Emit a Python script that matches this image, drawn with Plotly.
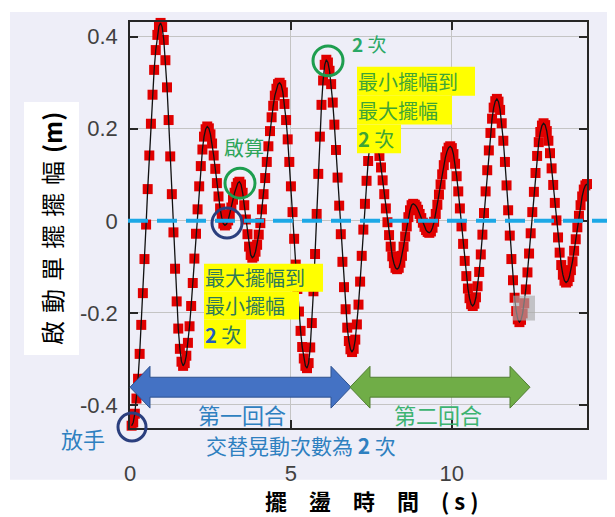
import plotly.graph_objects as go

# ---------------- data ----------------
sample_interval_s = 0.05
amplitude_m = [
    -0.445, -0.438, -0.419, -0.386, -0.343, -0.289, -0.226, -0.157, -0.083, -0.008,
    0.069, 0.142, 0.211, 0.274, 0.328, 0.371, 0.404, 0.423, 0.430,
    0.421, 0.393, 0.349, 0.290, 0.219, 0.140, 0.058, -0.025, -0.104, -0.175,
    -0.234, -0.278, -0.306, -0.315,
    -0.309, -0.293, -0.265, -0.229, -0.185, -0.135, -0.082, -0.028, 0.025, 0.075,
    0.119, 0.155, 0.183, 0.199, 0.205,
    0.201, 0.188, 0.168, 0.142, 0.113, 0.082, 0.053, 0.027, 0.007, -0.006, -0.010,
    -0.007, 0.001, 0.014, 0.029, 0.046, 0.061, 0.074, 0.082, 0.085,
    0.079, 0.061, 0.034, 0.003, -0.029, -0.056, -0.074, -0.080,
    -0.077, -0.067, -0.052, -0.030, -0.005, 0.025, 0.058, 0.093, 0.128, 0.162,
    0.195, 0.225, 0.250, 0.272, 0.287, 0.297, 0.300,
    0.295, 0.279, 0.254, 0.219, 0.177, 0.128, 0.075, 0.019, -0.039, -0.095,
    -0.148, -0.197, -0.239, -0.274, -0.299, -0.315, -0.320,
    -0.309, -0.275, -0.222, -0.153, -0.072, 0.015, 0.102, 0.183, 0.252, 0.305,
    0.339, 0.350,
    0.344, 0.326, 0.297, 0.257, 0.209, 0.154, 0.094, 0.033, -0.029, -0.089,
    -0.144, -0.192, -0.232, -0.261, -0.279, -0.285,
    -0.278, -0.258, -0.225, -0.182, -0.132, -0.076, -0.019, 0.037, 0.087, 0.130,
    0.163, 0.183, 0.190,
    0.187, 0.177, 0.162, 0.141, 0.116, 0.088, 0.058, 0.027, -0.003, -0.031,
    -0.056, -0.077, -0.092, -0.102, -0.105,
    -0.102, -0.091, -0.076, -0.056, -0.034, -0.012, 0.008, 0.023, 0.034, 0.037,
    0.035, 0.031, 0.024, 0.015, 0.006, -0.004, -0.013, -0.020, -0.024, -0.026,
    -0.023, -0.015, -0.002, 0.015, 0.035, 0.057, 0.079, 0.101, 0.121, 0.138,
    0.151, 0.159, 0.162,
    0.158, 0.145, 0.124, 0.097, 0.064, 0.027, -0.012, -0.050, -0.087, -0.120,
    -0.147, -0.168, -0.181, -0.185,
    -0.180, -0.166, -0.142, -0.111, -0.073, -0.030, 0.017, 0.064, 0.110, 0.153,
    0.191, 0.222, 0.246, 0.260, 0.265,
    0.259, 0.241, 0.212, 0.174, 0.128, 0.077, 0.023, -0.032, -0.083, -0.129,
    -0.167, -0.196, -0.214, -0.220,
    -0.215, -0.201, -0.179, -0.149, -0.112, -0.071, -0.027, 0.019, 0.063, 0.104,
    0.141, 0.171, 0.193, 0.207, 0.212,
    0.208, 0.195, 0.174, 0.147, 0.114, 0.078, 0.039, 0.001, -0.036, -0.069,
    -0.096, -0.117, -0.130, -0.134,
    -0.131, -0.122, -0.107, -0.088, -0.065, -0.040, -0.014, 0.011, 0.034, 0.053,
    0.068, 0.077, 0.080,
]
time_s = [round(sample_interval_s * (i + 1), 2) for i in range(len(amplitude_m))]

x_tick_vals = [0, 5, 10]
x_tick_text = ["0", "5", "10"]
y_tick_vals = [-0.4, -0.2, 0, 0.2, 0.4]
y_tick_text = ["-0.4", "-0.2", "0", "0.2", "0.4"]

y_title = "啟\u2004動\u2004單\u2004擺\u2004擺\u2004幅\u2004<b>(m)</b>"
x_title = "<b>擺\u3000盪\u3000時\u3000間\u3000( s )</b>"

# ---------------- layout helpers (screen pixel -> paper) ----------------
OFF = 8                      # default page margin around the figure div
W, H = 615 - OFF, 517 - OFF
PX0, PX1, PY0, PY1 = 130, 587, 20, 428   # plot area in screen pixels
L, T = PX0 - OFF, PY0 - OFF
R, B = W - (PX1 - OFF), H - (PY1 - OFF)
PW, PH = PX1 - PX0, PY1 - PY0


def xp(px):
    return (px - PX0) / PW


def yp(py):
    return (PY1 - py) / PH


CJK = "Noto Sans CJK TC, Noto Sans, sans-serif"

fig = go.Figure()
fig.add_trace(go.Scatter(
    x=time_s, y=amplitude_m, mode="markers",
    marker=dict(symbol="square", size=10, color="#e00000"),
    cliponaxis=False, showlegend=False, hoverinfo="skip"))
fig.add_trace(go.Scatter(
    x=time_s, y=amplitude_m, mode="lines",
    line=dict(color="#111111", width=1.3),
    showlegend=False))

shapes = []
# lavender background panel
shapes.append(dict(type="rect", xref="paper", yref="paper", layer="below",
                   x0=xp(10), x1=xp(612), y0=yp(480), y1=yp(10),
                   fillcolor="#eeeef8", line=dict(width=0)))
# dashed zero line
shapes.append(dict(type="line", xref="paper", yref="y", x0=xp(128), x1=xp(616),
                   y0=0, y1=0, layer="above",
                   line=dict(color="#1ca8e6", width=4, dash="20px,9px")))


def circle(cx, cy, r, color):
    return dict(type="circle", xref="paper", yref="paper", layer="above",
                x0=xp(cx - r), x1=xp(cx + r), y0=yp(cy + r), y1=yp(cy - r),
                line=dict(color=color, width=3))


shapes.append(circle(240, 182, 15, "#1e9e4f"))
shapes.append(circle(227, 222, 15, "#2b3f7e"))
shapes.append(circle(328, 59, 15, "#1e9e4f"))
shapes.append(circle(132, 427, 14, "#2b3f7e"))


def dbl_arrow(x0, x1, yc, fill, edge):
    hh, sh, hl = 21, 10, 20
    pts = [(x0, yc), (x0 + hl, yc - hh), (x0 + hl, yc - sh), (x1 - hl, yc - sh),
           (x1 - hl, yc - hh), (x1, yc), (x1 - hl, yc + hh), (x1 - hl, yc + sh),
           (x0 + hl, yc + sh), (x0 + hl, yc + hh)]
    path = "M " + " L ".join(f"{xp(a):.5f},{yp(b):.5f}" for a, b in pts) + " Z"
    return dict(type="path", xref="paper", yref="paper", path=path, layer="above",
                fillcolor=fill, line=dict(color=edge, width=1))


shapes.append(dbl_arrow(130, 351, 387, "#4472c4", "#2f528f"))
shapes.append(dbl_arrow(350, 530, 387, "#70ad47", "#507e32"))
# grey highlight square
shapes.append(dict(type="rect", xref="paper", yref="paper", layer="above",
                   x0=xp(513), x1=xp(535), y0=yp(320), y1=yp(295),
                   fillcolor="rgba(170,170,170,0.65)", line=dict(width=0)))


def highlight(x0, x1, y0, y1):
    shapes.append(dict(type="rect", xref="paper", yref="paper", layer="above",
                       x0=xp(x0), x1=xp(x1), y0=yp(y1), y1=yp(y0),
                       fillcolor="#ffff00", line=dict(width=0)))


# per-line yellow highlights of the two text boxes
highlight(357, 475, 65, 94)
highlight(357, 452, 94, 123)
highlight(357, 401, 123, 152)
highlight(204, 323, 263, 291)
highlight(204, 299, 291, 319)
highlight(204, 246, 319, 348)

ann = []


def text(px, py, s, color, size, anchor="center", bg=None, angle=0, pad=1):
    d = dict(xref="paper", yref="paper", x=xp(px), y=yp(py), text=s,
             showarrow=False, xanchor=anchor, yanchor="middle", align="left",
             font=dict(family=CJK, size=size, color=color), textangle=angle,
             borderpad=pad, borderwidth=0)
    if bg:
        d["bgcolor"] = bg
    ann.append(d)


text(244, 146, "啟算", "#2ea55a", 20)
text(369, 42, "<b>2</b> 次", "#2aa866", 19)
up_c = "#3fa535"
text(358, 79.5, "最小擺幅到", up_c, 20, "left", pad=0)
text(358, 108.5, "最大擺幅", up_c, 20, "left", pad=0)
text(358, 137.5, "<b>2</b> 次", up_c, 20, "left", pad=0)
lo_c = "#2e7a5a"
text(205, 277, "最大擺幅到", lo_c, 20, "left", pad=0)
text(205, 305, "最小擺幅", lo_c, 20, "left", pad=0)
text(205, 334, "<b><span style='color:#1f5cc4'>2</span></b> 次", lo_c, 20, "left", pad=0)
text(242, 414, "第一回合", "#2e80c0", 22)
text(438, 414, "第二回合", "#3cb371", 22)
text(301, 445, "交替晃動次數為 <b>2</b> 次", "#2e80c0", 21)
text(83, 438, "放手", "#2e80c0", 22)
# axis titles
text(52, 228, y_title, "#000000", 24, angle=-90, bg="#ffffff", pad=10)
text(372, 500, x_title, "#000000", 22)

axis_common = dict(showline=True, linecolor="#262626", linewidth=1.5, mirror="ticks",
                   ticks="inside", ticklen=8, tickwidth=1.5, tickcolor="#262626",
                   showgrid=True, gridcolor="#c4c4c4", gridwidth=1, zeroline=False,
                   tickfont=dict(family="Liberation Sans, Arial, sans-serif",
                                 size=22, color="#404040"))

fig.update_layout(
    width=W, height=H, margin=dict(l=L, r=R, t=T, b=B),
    paper_bgcolor="#ffffff", plot_bgcolor="#ffffff",
    xaxis=dict(range=[0, 14.2], tickvals=x_tick_vals, ticktext=x_tick_text,
               ticklabelstandoff=25, **axis_common),
    yaxis=dict(range=[-0.45, 0.432], tickvals=y_tick_vals, ticktext=y_tick_text,
               ticklabelstandoff=6, **axis_common),
    shapes=shapes, annotations=ann, showlegend=False,
)

fig.write_html("out.html")
